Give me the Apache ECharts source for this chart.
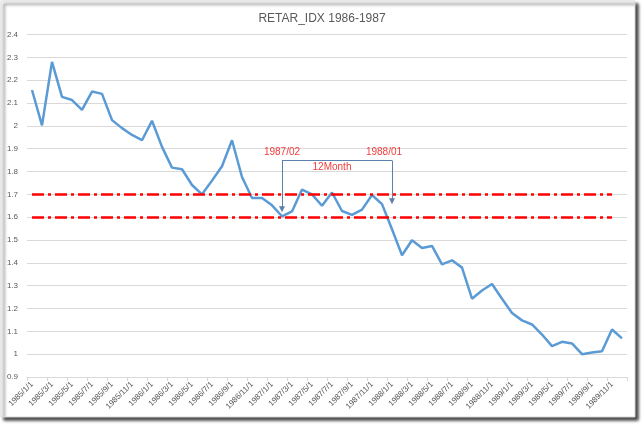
<!DOCTYPE html>
<html><head><meta charset="utf-8">
<script src="https://cdn.jsdelivr.net/npm/echarts@6/dist/echarts.min.js"></script>
<style>html,body{margin:0;padding:0;background:#fff}#c{width:644px;height:426px}</style>
</head><body><div id="c"></div>
<script>
var categories = [
'1985/1/1','1985/2/1','1985/3/1','1985/4/1','1985/5/1','1985/6/1','1985/7/1','1985/8/1','1985/9/1','1985/10/1','1985/11/1','1985/12/1',
'1986/1/1','1986/2/1','1986/3/1','1986/4/1','1986/5/1','1986/6/1','1986/7/1','1986/8/1','1986/9/1','1986/10/1','1986/11/1','1986/12/1',
'1987/1/1','1987/2/1','1987/3/1','1987/4/1','1987/5/1','1987/6/1','1987/7/1','1987/8/1','1987/9/1','1987/10/1','1987/11/1','1987/12/1',
'1988/1/1','1988/2/1','1988/3/1','1988/4/1','1988/5/1','1988/6/1','1988/7/1','1988/8/1','1988/9/1','1988/10/1','1988/11/1','1988/12/1',
'1989/1/1','1989/2/1','1989/3/1','1989/4/1','1989/5/1','1989/6/1','1989/7/1','1989/8/1','1989/9/1','1989/10/1','1989/11/1','1989/12/1'];
var retarIdx = [
2.157,2.002,2.28,2.127,2.113,2.07,2.15,2.14,2.025,1.99,1.96,1.937,
2.022,1.908,1.817,1.81,1.741,1.70,1.76,1.823,1.937,1.776,1.684,1.684,
1.652,1.604,1.625,1.721,1.70,1.65,1.708,1.627,1.61,1.633,1.697,1.657,
1.547,1.433,1.499,1.465,1.474,1.393,1.411,1.379,1.243,1.279,1.307,1.243,
1.18,1.148,1.13,1.086,1.035,1.054,1.047,1.00,1.007,1.013,1.108,1.069];
var refLevels = [1.7, 1.6];
var bracketStart = '1987/2/1', bracketEnd = '1988/1/1';
var bracketTop = 1.848, arrowTipStart = 1.635, arrowTipEnd = 1.670;
var annoTexts = ['1987/02', '1988/01', '12Month'];
var annoTextLevel = 1.885, midTextLevel = 1.82, midCategory = '1987/7/1';
var yMin = 0.9, yMax = 2.4, yStep = 0.1;

var chart = echarts.init(document.getElementById('c'), null, {renderer:'canvas'});
var red = '#ff0000', brk = '#5a80ad', txtRed = '#f23c3c';
var refLines = refLevels.map(function(v){
  return [{coord:[categories[0], v]}, {coord:[categories[categories.length-2], v]}];
});
var bracket = [
  [{coord:[bracketStart, bracketTop], symbol:'none'}, {coord:[bracketEnd, bracketTop], symbol:'none'}],
  [{coord:[bracketStart, bracketTop], symbol:'none'}, {coord:[bracketStart, arrowTipStart], symbol:'triangle', symbolSize:[6,6], symbolRotate:180}],
  [{coord:[bracketEnd, bracketTop], symbol:'none'}, {coord:[bracketEnd, arrowTipEnd], symbol:'triangle', symbolSize:[6,6], symbolRotate:180}]
];
chart.setOption({
  animation:false,
  backgroundColor:'#fff',
  title:{text:'RETAR_IDX 1986-1987', left:'center', top:8, textStyle:{fontFamily:'Liberation Sans', fontSize:12, fontWeight:'normal', color:'#595959'}},
  graphic:[
    {type:'rect', z:-100, shape:{x:1,y:1,width:634,height:416}, style:{fill:'#fff', stroke:'#d9d9d9', lineWidth:1, shadowColor:'rgba(0,0,0,0.75)', shadowBlur:3, shadowOffsetX:3, shadowOffsetY:3}}
  ],
  grid:{left:27, right:17, top:34.5, bottom:49},
  xAxis:{type:'category', data:categories, boundaryGap:true,
    axisLine:{lineStyle:{color:'#d9d9d9'}},
    axisTick:{show:true, interval:1, length:4, lineStyle:{color:'#d9d9d9'}},
    axisLabel:{interval:1, rotate:45, fontSize:8, color:'#595959', fontFamily:'Liberation Sans', margin:6}},
  yAxis:{type:'value', min:yMin, max:yMax, interval:yStep,
    axisLine:{show:false}, axisTick:{show:false},
    splitLine:{lineStyle:{color:'#d9d9d9', width:1}},
    axisLabel:{fontSize:8, color:'#595959', fontFamily:'Liberation Sans', margin:9,
      formatter:function(v){return String(parseFloat(v.toFixed(1)));}}},
  series:[
    {type:'line', data:retarIdx, symbol:'none', lineStyle:{color:'#5b9bd5', width:2.5}, z:3,
     markLine:{silent:true, symbol:'none', label:{show:false}, lineStyle:{color:red, width:2.5, type:[12,4,3,4]}, data:refLines}},
    {type:'line', data:[], z:4,
     markLine:{silent:true, label:{show:false}, lineStyle:{color:brk, width:1, type:'solid'}, symbol:['none','triangle'], data:bracket},
     markPoint:{silent:true, symbol:'circle', symbolSize:0,
       label:{show:true, color:txtRed, fontSize:10, fontFamily:'Liberation Sans', position:'inside'},
       data:[
         {coord:[bracketStart, annoTextLevel], value:annoTexts[0], label:{formatter:annoTexts[0]}},
         {coord:[bracketEnd, annoTextLevel], value:annoTexts[1], label:{formatter:annoTexts[1], offset:[-8,0]}},
         {coord:[midCategory, midTextLevel], value:annoTexts[2], label:{formatter:annoTexts[2]}}
       ]}}
  ]
});
</script></body></html>
